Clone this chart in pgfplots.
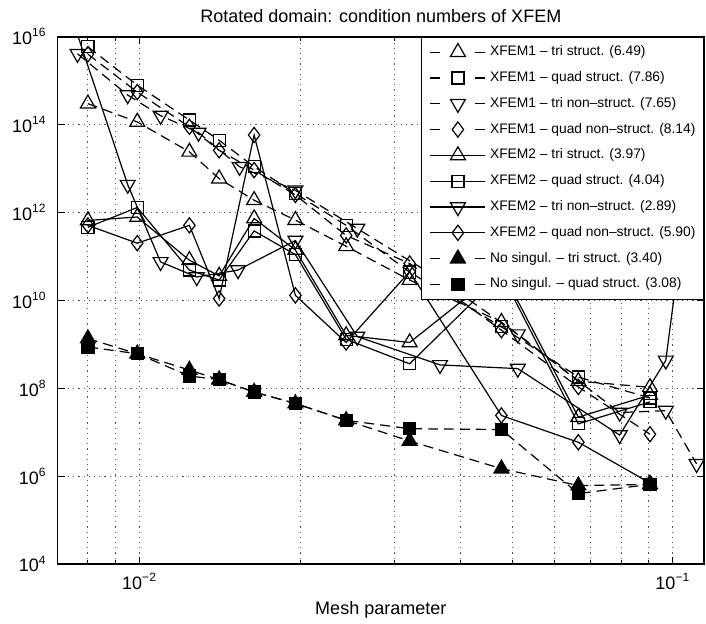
\documentclass[border=0pt]{standalone}
\usepackage{fontspec}
\setmainfont{Liberation Sans}
\usepackage{pgfplots}
\pgfplotsset{compat=1.18}

\pgfplotsset{
  dashleg/.style={legend image code/.code={
     \draw[##1, mark=none, dash pattern=on 5pt off 17.5pt on 5pt] (0pt,0pt) -- (27.5pt,0pt);
     \draw[##1, solid] plot coordinates {(13.75pt,0pt)};}},
  solidleg/.style={legend image code/.code={
     \draw[##1, mark=none] (0pt,0pt) -- (27.5pt,0pt);
     \draw[##1] plot coordinates {(13.75pt,0pt)};}},
  sA/.style={black, line width=0.6pt, dash pattern=on 5pt off 3pt, dashleg},
  sB/.style={black, line width=0.6pt, solid, solidleg},
}

\pgfplotstableread{
x y
0.0080 3.0e14
0.0099 1.15e14
0.0124 2.4e13
0.0141 5.9e12
0.0164 1.9e12
0.0196 6.7e11
0.0244 1.7e11
0.0321 2.9e10
0.0477 3.2e9
0.0665 1.45e8
0.0906 1.05e8
}\xaTS
\pgfplotstableread{
x y
0.0080 5.9e15
0.0099 7.9e14
0.0124 1.27e14
0.0141 4.4e13
0.0164 1.1e13
0.0196 2.7e12
0.0244 5.1e11
0.0321 4.4e10
0.0477 2.5e9
0.0665 1.8e8
0.0906 6.0e7
}\xaQS
\pgfplotstableread{
x y
0.00765 4.1e15
0.0095 4.7e14
0.01095 1.6e14
0.0129 6.6e13
0.0154 1.1e13
0.0196 3.2e12
0.0256 4.3e11
0.0366 3.0e10
0.0512 1.7e9
0.0795 2.8e7
0.0970 3.1e7
0.1108 1.9e6
}\xaTN
\pgfplotstableread{
x y
0.0080 4.0e15
0.0099 5.5e14
0.0124 8.9e13
0.0141 2.6e13
0.0164 9.2e12
0.0196 2.5e12
0.0244 3.0e11
0.0321 6.9e10
0.0477 2.1e9
0.0665 1.07e8
0.0906 9.0e6
}\xaQN
\pgfplotstableread{
x y
0.0080 6.6e11
0.0099 7.9e11
0.0124 8.2e10
0.0141 3.6e10
0.0164 7.3e11
0.0196 1.4e11
0.0244 1.6e9
0.0321 1.1e9
0.0477 5.0e10
0.0665 2.2e7
0.0906 7.0e7
}\xbTS
\pgfplotstableread{
x y
0.0080 4.6e11
0.0099 1.3e12
0.0124 4.9e10
0.0141 2.9e10
0.0164 3.8e11
0.0196 1.1e11
0.0244 1.3e9
0.0321 3.6e8
0.0477 4.0e10
0.0665 1.55e7
0.0906 4.9e7
}\xbQS
\pgfplotstableread{
x y
0.00765 1.1e16
0.0095 4.3e12
0.01095 7.5e10
0.0128 3.4e10
0.0153 4.9e10
0.0196 2.3e11
0.0256 1.5e9
0.0366 3.4e8
0.0512 2.8e8
0.0795 8.6e6
0.0970 4.3e8
0.1108 1.0e14
}\xbTN
\pgfplotstableread{
x y
0.0080 5.1e11
0.0099 2.0e11
0.0124 5.1e11
0.0141 1.1e10
0.0164 5.8e13
0.0196 1.3e10
0.0244 1.1e9
0.0321 4.5e10
0.0477 2.4e7
0.0665 5.9e6
0.0906 7.0e5
}\xbQN
\pgfplotstableread{
x y
0.0080 1.35e9
0.0099 6.1e8
0.0124 2.6e8
0.0141 1.57e8
0.0164 8.2e7
0.0196 4.5e7
0.0244 1.86e7
0.0321 6.3e6
0.0477 1.48e6
0.0665 6.1e5
0.0906 6.5e5
}\nsT
\pgfplotstableread{
x y
0.0080 8.7e8
0.0099 6.1e8
0.0124 1.9e8
0.0141 1.57e8
0.0164 8.2e7
0.0196 4.5e7
0.0244 1.86e7
0.0321 1.2e7
0.0477 1.15e7
0.0665 4.0e5
0.0906 6.5e5
}\nsQ

\begin{document}
\begin{tikzpicture}
\begin{axis}[
  name=ax,
  xmode=log, ymode=log,
  scale only axis, width=323pt, height=263.5pt,
  xmin=0.00702, xmax=0.1144, ymin=1e4, ymax=1e16,
  xtick={0.01,0.1},
  xticklabels={10\textsuperscript{−2},10\textsuperscript{−1}},
  minor xtick={0.008,0.009,0.02,0.03,0.04,0.05,0.06,0.07,0.08,0.09},
  ytick={1e4,1e6,1e8,1e10,1e12,1e14,1e16},
  yticklabels={10\textsuperscript{4},10\textsuperscript{6},10\textsuperscript{8},10\textsuperscript{10},10\textsuperscript{12},10\textsuperscript{14},10\textsuperscript{16}},
  yminorticks=false,
  xmajorgrids=true, xminorgrids=true, ymajorgrids=true,
  major grid style={black!65, line width=0.4pt, dash pattern=on 0.6pt off 2pt},
  minor grid style={black!65, line width=0.4pt, dash pattern=on 0.6pt off 2pt},
  tick style={black, line width=0.5pt},
  major tick length=3.5pt, minor tick length=2pt,
  axis line style={black, line width=0.8pt},
  tick label style={font=\fontsize{9}{11}\selectfont},
  yticklabel style={xshift=-2pt},
  xticklabel style={yshift=-1pt},
  every axis title shift=0pt,
  title={Rotated domain: condition numbers of XFEM},
  title style={font=\fontsize{9}{11}\selectfont, at={(axis description cs:0.5,1)}, anchor=base, yshift=7.3pt},
  xlabel={Mesh parameter},
  xlabel style={font=\fontsize{9}{11}\selectfont, at={(axis description cs:0.5,0)}, anchor=base, yshift=-25pt},
  clip marker paths=true,
  legend cell align=left,
  legend style={at={(1,1)}, anchor=north east, draw=black, line width=0.5pt, fill=white,
    font=\fontsize{6.9}{8}\selectfont, inner xsep=4pt, inner ysep=1pt,
    row sep=0pt, column sep=2pt, nodes={inner sep=0pt, minimum height=12.9pt}},
]
\addplot[sA, mark=triangle, mark size=4.3pt, mark options={solid}] table {\xaTS};
\addlegendentry{XFEM1 – tri struct. (6.49)}
\addplot[sA, mark=square, mark size=3pt, mark options={solid}] table {\xaQS};
\addlegendentry{XFEM1 – quad struct. (7.86)}
\addplot[sA, mark=triangle, mark size=4.3pt, mark options={solid, rotate=180}] table {\xaTN};
\addlegendentry{XFEM1 – tri non–struct. (7.65)}
\addplot[sA, mark=diamond, mark size=3.8pt, mark options={solid}] table {\xaQN};
\addlegendentry{XFEM1 – quad non–struct. (8.14)}
\addplot[sB, mark=triangle, mark size=4.3pt, mark options={solid}] table {\xbTS};
\addlegendentry{XFEM2 – tri struct. (3.97)}
\addplot[sB, mark=square, mark size=3pt, mark options={solid}] table {\xbQS};
\addlegendentry{XFEM2 – quad struct. (4.04)}
\addplot[sB, mark=triangle, mark size=4.3pt, mark options={solid, rotate=180}] table {\xbTN};
\addlegendentry{XFEM2 – tri non–struct. (2.89)}
\addplot[sB, mark=diamond, mark size=3.8pt, mark options={solid}] table {\xbQN};
\addlegendentry{XFEM2 – quad non–struct. (5.90)}
\addplot[sA, mark=triangle*, mark size=4.3pt, mark options={solid, fill=black}] table {\nsT};
\addlegendentry{No singul. – tri struct. (3.40)}
\addplot[sA, mark=square*, mark size=3pt, mark options={solid, fill=black}] table {\nsQ};
\addlegendentry{No singul. – quad struct. (3.08)}
\end{axis}
\pgfresetboundingbox
\path[use as bounding box] ([xshift=-28.8pt, yshift=-29.65pt]ax.south west) rectangle ([xshift=1pt, yshift=18.35pt]ax.north east);
\end{tikzpicture}
\end{document}
